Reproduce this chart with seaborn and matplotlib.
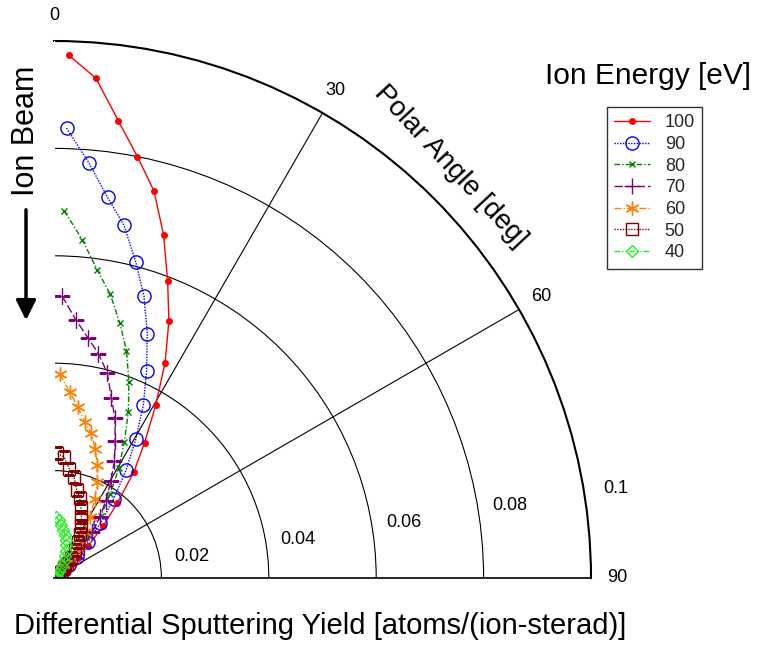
import numpy as np
import pandas as pd
import matplotlib
matplotlib.use("Agg")
import matplotlib.pyplot as plt
import seaborn as sns

# ---------------- data ----------------
# polar angle bin centres [deg]
angle_deg = [1.6, 4.8, 8.0, 11.2, 14.5, 17.7, 20.9, 24.1, 27.3, 30.5, 33.8, 37.0, 40.2, 43.4,
             46.6, 49.8, 53.0, 56.3, 59.5, 62.7, 65.9, 69.1, 72.3, 75.5, 78.8, 82.0, 85.2, 88.4]

energies = ["100", "90", "80", "70", "60", "50", "40"]

y100 = [0.0974, 0.0934, 0.0860, 0.0800, 0.0744, 0.0671, 0.0593, 0.0524, 0.0451, 0.0373, 0.0303, 0.0247,
        0.0182, 0.0134, 0.0088, 0.0058, 0.0040, 0.0026, 0.0017, 0.0011, 0.0007, 0.0005, 0.0003, 0.0002,
        0.0001, 0.0001, 0.0, 0.0]
y90 = [0.0838, 0.0776, 0.0716, 0.0670, 0.0608, 0.0551, 0.0487, 0.0422, 0.0363, 0.0300, 0.0241, 0.0185,
       0.0134, 0.0091, 0.0058, 0.0037, 0.0024, 0.0015, 0.0010, 0.0006, 0.0004, 0.0003, 0.0002, 0.0001,
       0.0001, 0.0, 0.0, 0.0]
y80 = [0.0684, 0.0632, 0.0579, 0.0539, 0.0490, 0.0444, 0.0391, 0.0339, 0.0286, 0.0238, 0.0188, 0.0144,
       0.0102, 0.0069, 0.0045, 0.0029, 0.0019, 0.0012, 0.0008, 0.0005, 0.0003, 0.0002, 0.0001, 0.0001,
       0.0, 0.0, 0.0, 0.0]
y70 = [0.0526, 0.0483, 0.0452, 0.0426, 0.0395, 0.0352, 0.0318, 0.0279, 0.0245, 0.0209, 0.0173, 0.0142,
       0.0111, 0.0080, 0.0055, 0.0037, 0.0024, 0.0016, 0.0010, 0.0006, 0.0004, 0.0003, 0.0002, 0.0001,
       0.0001, 0.0, 0.0, 0.0]
y60 = [0.0380, 0.0348, 0.0321, 0.0296, 0.0278, 0.0252, 0.0226, 0.0196, 0.0166, 0.0132, 0.0103, 0.0078,
       0.0058, 0.0042, 0.0030, 0.0021, 0.0014, 0.0009, 0.0006, 0.0004, 0.0003, 0.0002, 0.0001, 0.0001,
       0.0, 0.0, 0.0, 0.0]
y50 = [0.0232, 0.0226, 0.0205, 0.0192, 0.0169, 0.0157, 0.0141, 0.0125, 0.0110, 0.0095, 0.0080, 0.0065,
       0.0049, 0.0036, 0.0026, 0.0018, 0.0012, 0.0008, 0.0005, 0.0003, 0.0002, 0.0001, 0.0001, 0.0,
       0.0, 0.0, 0.0, 0.0]
y40 = [0.0114, 0.0108, 0.0099, 0.0091, 0.0082, 0.0074, 0.0065, 0.0055, 0.0046, 0.0036, 0.0027, 0.0017,
       0.0010, 0.0006, 0.0004, 0.0002, 0.0001, 0.0001, 0.0, 0.0, 0.0, 0.0, 0.0, 0.0,
       0.0, 0.0, 0.0, 0.0]

yields = {"100": y100, "90": y90, "80": y80, "70": y70, "60": y60, "50": y50, "40": y40}

r_ticks = [0.02, 0.04, 0.06, 0.08, 0.1]
r_tick_labels = ["0.02", "0.04", "0.06", "0.08", "0.1"]
theta_ticks = [0, 30, 60, 90]
theta_tick_labels = ["0", "30", "60", "90"]

# ---------------- styles ----------------
styles = {
    "100": dict(color="#FF0000", linestyle="-", marker="o", markersize=4, markerfacecolor="#FF0000"),
    "90": dict(color="#0000FF", linestyle=(0, (1, 1)), marker="o", markersize=9.5, markerfacecolor="none"),
    "80": dict(color="#008000", linestyle=(0, (4, 1.5, 1, 1.5)), marker="x", markersize=5, markerfacecolor="none"),
    "70": dict(color="#800080", linestyle=(0, (6, 2)), marker="+", markersize=11, markerfacecolor="none"),
    "60": dict(color="#FF8000", linestyle=(0, (5, 1.5, 1, 1.5)), marker=(6, 2, 0), markersize=10, markerfacecolor="none"),
    "50": dict(color="#800000", linestyle=(0, (1, 1)), marker="s", markersize=9, markerfacecolor="none"),
    "40": dict(color="#22EE22", linestyle=(0, (4, 1.5, 1, 1.5, 1, 1.5)), marker="D", markersize=6, markerfacecolor="none"),
}

sns.set_style("white")
plt.rcParams["font.family"] = ["Liberation Sans", "DejaVu Sans"]
plt.rcParams["axes.edgecolor"] = "white"
plt.rcParams["xtick.color"] = "white"
plt.rcParams["ytick.color"] = "white"

W, H = 757, 647
fig = plt.figure(figsize=(W / 100, H / 100), dpi=100)
ox, oy, R = 54, 578, 537  # pixel geometry of the quarter disc
ax = fig.add_axes([ox / W, (H - oy) / H, R / W, R / H], projection="polar")
ax.set_theta_zero_location("N")
ax.set_theta_direction(-1)

theta = np.deg2rad(angle_deg)
for e in energies:
    st = styles[e]
    df = pd.DataFrame({"theta": theta, "r": yields[e]})
    sns.lineplot(data=df, x="theta", y="r", ax=ax, sort=False, estimator=None,
                 color=st["color"], linestyle=st["linestyle"], marker=st["marker"],
                 markersize=st["markersize"], markerfacecolor=st["markerfacecolor"],
                 markeredgecolor=st["color"], markeredgewidth=1, linewidth=1, label=e)

ax.set_autoscale_on(False)
ax.set_thetamin(0)
ax.set_thetamax(90)
ax.set_rlim(0, 0.1)
ax.set_rticks(r_ticks[:-1])
ax.set_yticklabels([])
ax.set_xticks(np.deg2rad([30, 60]))
ax.set_xticklabels([])
ax.set_xlabel("")
ax.set_ylabel("")
ax.grid(True, color="black", linewidth=0.8, linestyle="-")
ax.tick_params(length=0)
ax.spines["polar"].set_linewidth(1.5)
ax.spines["polar"].set_color("black")
ax.spines["start"].set_visible(False)
ax.spines["end"].set_linestyle((0, (1, 1)))
ax.spines["end"].set_linewidth(1.2)
ax.spines["end"].set_color("black")
ax.spines["inner"].set_visible(False)

# radial labels
for v, lab in zip(r_ticks, r_tick_labels):
    ax.text(np.deg2rad(81), v + 0.006, lab, fontsize=13, ha="center", va="center", color="black")
# angle labels
for a, lab in zip(theta_ticks, theta_tick_labels):
    ax.text(np.deg2rad(a), 0.1048, lab, fontsize=13, ha="center", va="center", color="black")

ax.text(np.deg2rad(43.9), 0.1065, "Polar Angle [deg]", fontsize=20, rotation=-47,
        ha="center", va="center", rotation_mode="anchor", color="black")

leg_handles, leg_labels = ax.get_legend_handles_labels()
if ax.get_legend() is not None:
    ax.get_legend().remove()
leg = fig.legend(leg_handles, leg_labels, loc="upper left",
                 bbox_to_anchor=(607 / W, 1 - 107 / H), borderaxespad=0, frameon=True, fancybox=False,
                 edgecolor="black", fontsize=13, handlelength=2.0, labelspacing=0.26,
                 borderpad=0.4, handletextpad=0.8)
leg.get_frame().set_linewidth(1.0)

fig.text(648 / W, 1 - 76 / H, "Ion Energy [eV]", fontsize=21.5, ha="center", va="center", color="black")
fig.text(320 / W, 1 - 626 / H, "Differential Sputtering Yield [atoms/(ion-sterad)]",
         fontsize=21, ha="center", va="center", color="black")
fig.text(26 / W, 1 - 131 / H, "Ion Beam", fontsize=22, rotation=90, ha="center", va="center", color="black")
fig.add_artist(matplotlib.patches.FancyArrowPatch(
    (26 / W, 1 - 207 / H), (26 / W, 1 - 323 / H), transform=fig.transFigure,
    arrowstyle="-|>,head_length=6,head_width=3", color="black", linewidth=2.5, mutation_scale=2))

fig.savefig("out.png", dpi=100, facecolor="white")
